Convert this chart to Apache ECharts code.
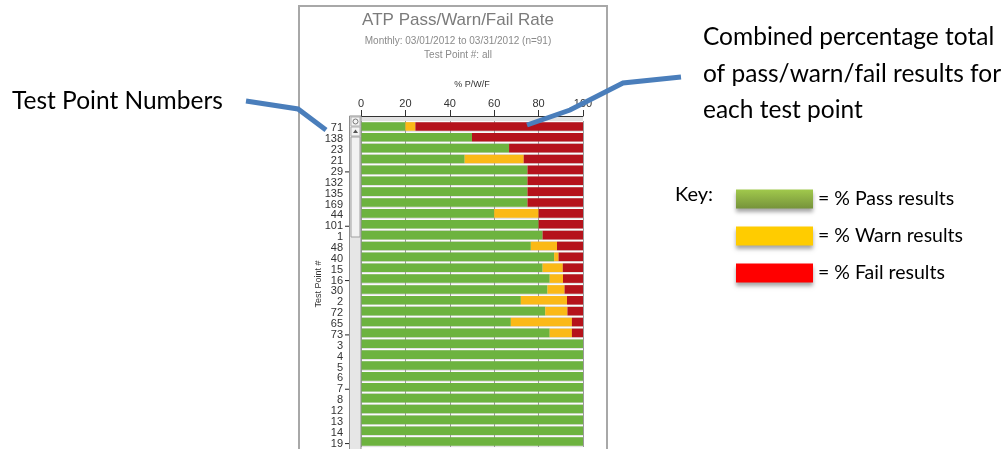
<!DOCTYPE html>
<html>
<head>
<meta charset="utf-8">
<script src="https://cdn.jsdelivr.net/npm/echarts@6/dist/echarts.min.js"></script>
<style>
  html, body { margin: 0; padding: 0; background: #fff; }
  #chart { width: 1008px; height: 449px; }
</style>
</head>
<body>
<div id="chart"></div>
<script>
// test points, top to bottom
const testPoints = ['71', '138', '23', '21', '29', '132', '135', '169', '44', '101',
  '1', '48', '40', '15', '16', '30', '2', '72', '65', '73',
  '3', '4', '5', '6', '7', '8', '12', '13', '14', '19']
// % of results per test point
const passPct = [20, 50, 66.7, 46.7, 75, 75, 75, 75, 60, 80,
  81.8, 76.5, 87, 81.8, 85, 84, 72, 83, 67.5, 85,
  100, 100, 100, 100, 100, 100, 100, 100, 100, 100]
const warnPct = [4.5, 0, 0, 26.6, 0, 0, 0, 0, 20, 0,
  0, 11.8, 2, 9.1, 6, 7.7, 20.8, 10, 27.5, 10,
  0, 0, 0, 0, 0, 0, 0, 0, 0, 0]
const failPct = [75.5, 50, 33.3, 26.7, 25, 25, 25, 25, 20, 20,
  18.2, 11.7, 11, 9.1, 9, 8.3, 7.2, 7, 5, 5,
  0, 0, 0, 0, 0, 0, 0, 0, 0, 0]
const xTicks = [0, 20, 40, 60, 80, 100]

const chart = echarts.init(document.getElementById('chart'))

const annoFont = 'Lato, "Open Sans", sans-serif'
const blue = '#4a7ebb'
const keyShadow = { shadowBlur: 4, shadowOffsetY: 3, shadowColor: 'rgba(0,0,0,0.35)' }

let option = {
  animation: false,
  backgroundColor: '#fff',
  title: {
    text: 'ATP Pass/Warn/Fail Rate',
    subtext: 'Monthly: 03/01/2012 to 03/31/2012 (n=91)\nTest Point #: all',
    left: 453,
    top: 7,
    textAlign: 'center',
    itemGap: 5,
    textStyle: { fontFamily: 'Arial, "Liberation Sans"', fontSize: 17, fontWeight: 'normal', color: '#7b7b7b' },
    subtextStyle: { fontFamily: 'Arial, "Liberation Sans"', fontSize: 10, color: '#8a8a8a', lineHeight: 14 }
  },
  legend: {
    left: 736,
    top: 189,
    padding: 0,
    orient: 'vertical',
    selectedMode: false,
    itemWidth: 77,
    itemHeight: 19,
    itemGap: 17,
    icon: 'rect',
    textStyle: { fontFamily: annoFont, fontSize: 19.5, color: '#000' },
    formatter: name => '= % ' + name + ' results',
    data: [
      { name: 'Pass', itemStyle: Object.assign({
        color: new echarts.graphic.LinearGradient(0, 0, 0, 1, [{ offset: 0, color: '#a1c94c' }, { offset: 1, color: '#76933b' }]) }, keyShadow) },
      { name: 'Warn', itemStyle: Object.assign({ color: '#ffcc00' }, keyShadow) },
      { name: 'Fail', itemStyle: Object.assign({ color: '#ff0000' }, keyShadow) }
    ]
  },
  grid: {
    left: 361,
    top: 121,
    width: 222,
    height: 330,
    show: true,
    backgroundColor: '#e2e2e2',
    borderWidth: 0
  },
  xAxis: {
    type: 'value',
    position: 'top',
    min: 0,
    max: 100,
    interval: 20,
    offset: 5,
    name: '% P/W/F',
    nameLocation: 'middle',
    nameGap: 27,
    nameTextStyle: { fontFamily: 'Arial, "Liberation Sans"', fontSize: 9, color: '#333' },
    axisLine: { show: true, lineStyle: { color: '#333', width: 1 } },
    axisTick: { show: true, length: 6, lineStyle: { color: '#333' } },
    axisLabel: {
      margin: 7,
      fontFamily: 'Arial, "Liberation Sans"',
      fontSize: 11,
      color: '#333',
      formatter: v => xTicks.includes(v) ? String(v) : ''
    },
    splitLine: { show: true, lineStyle: { color: '#9a9a9a', width: 1 } }
  },
  yAxis: {
    type: 'category',
    inverse: true,
    data: testPoints,
    offset: 12,
    name: 'Test Point #',
    nameLocation: 'middle',
    nameRotate: 90,
    nameGap: 26,
    nameMoveOverlap: false,
    nameTextStyle: { fontFamily: 'Arial, "Liberation Sans"', fontSize: 9, color: '#333' },
    axisLine: { show: false },
    axisTick: { show: false },
    axisLabel: {
      interval: 0,
      margin: 0,
      padding: [4, 0, 0, 0],
      fontFamily: 'Arial, "Liberation Sans"',
      fontSize: 11,
      color: '#333',
      // every 5th test point carries a small tick mark
      formatter: (value, index) => value + '{s|}' + (index % 5 === 4 ? '{t|}' : '{n|}'),
      rich: {
        s: { width: 2, height: 1 },
        t: { width: 4, height: 1, backgroundColor: '#222' },
        n: { width: 4, height: 1 }
      }
    },
    splitLine: { show: true, interval: 0, lineStyle: { color: '#fbfbfb', width: 1 } }
  },
  series: [
    { name: 'Pass', type: 'bar', stack: 'pwf', data: passPct, barCategoryGap: '21%', itemStyle: { color: '#6db33f' } },
    { name: 'Warn', type: 'bar', stack: 'pwf', data: warnPct, itemStyle: { color: '#fbb917' } },
    { name: 'Fail', type: 'bar', stack: 'pwf', data: failPct, itemStyle: { color: '#b5121b' } }
  ],
  graphic: [
    // chart frame
    { type: 'polyline', z: 50, shape: { points: [[299, 449], [299, 6], [607, 6], [607, 449]] },
      style: { stroke: '#a8a8a8', lineWidth: 2, fill: null } },
    // strip between axis and first bar
    { type: 'rect', z: -1, shape: { x: 361, y: 116, width: 222, height: 5 }, style: { fill: '#e2e2e2' } },
    // scrollbar
    { type: 'rect', z: 50, shape: { x: 349.5, y: 116, width: 11.5, height: 340 }, style: { fill: '#e6e6e6', stroke: '#8f8f8f', lineWidth: 1 } },
    { type: 'rect', z: 51, shape: { x: 351, y: 117, width: 9, height: 9 }, style: { fill: '#f4f4f4', stroke: '#b0b0b0', lineWidth: 1 } },
    { type: 'circle', z: 52, shape: { cx: 355.5, cy: 121.5, r: 2.5 }, style: { fill: null, stroke: '#777', lineWidth: 1 } },
    { type: 'rect', z: 51, shape: { x: 351, y: 127, width: 9, height: 9 }, style: { fill: '#f4f4f4', stroke: '#b0b0b0', lineWidth: 1 } },
    { type: 'polygon', z: 52, shape: { points: [[355.5, 129.5], [358, 133], [353, 133]] }, style: { fill: '#555' } },
    { type: 'rect', z: 51, shape: { x: 351, y: 137, width: 9, height: 100 }, style: { fill: '#f2f2f2', stroke: '#a0a0a0', lineWidth: 1 } },
    // annotations
    { type: 'text', z: 60, x: 12, y: 101,
      style: { text: 'Test Point Numbers', font: '24.5px ' + annoFont, fill: '#000', verticalAlign: 'middle' } },
    { type: 'polyline', z: 60, shape: { points: [[246, 101], [298, 109], [326, 130]] },
      style: { stroke: blue, lineWidth: 5, fill: null } },
    { type: 'text', z: 60, x: 703, y: 37,
      style: { text: 'Combined percentage total', font: '24.5px ' + annoFont, fill: '#000', verticalAlign: 'middle' } },
    { type: 'text', z: 60, x: 703, y: 74,
      style: { text: 'of pass/warn/fail results for', font: '24.5px ' + annoFont, fill: '#000', verticalAlign: 'middle' } },
    { type: 'text', z: 60, x: 703, y: 110,
      style: { text: 'each test point', font: '24.5px ' + annoFont, fill: '#000', verticalAlign: 'middle' } },
    { type: 'polyline', z: 60, shape: { points: [[681, 77], [623, 83], [570, 110], [527, 125]] },
      style: { stroke: blue, lineWidth: 5, fill: null } },
    { type: 'text', z: 60, x: 675, y: 195,
      style: { text: 'Key:', font: '20px ' + annoFont, fill: '#000', verticalAlign: 'middle' } }
  ]
}

chart.setOption(option)
</script>
</body>
</html>
